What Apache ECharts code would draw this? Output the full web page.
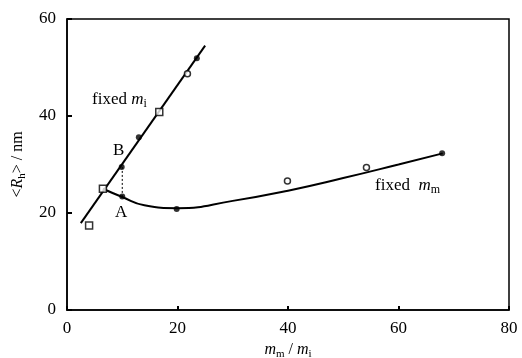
<!DOCTYPE html>
<html>
<head>
<meta charset="utf-8">
<script src="https://cdn.jsdelivr.net/npm/echarts@6/dist/echarts.min.js"></script>
<style>
  html, body { margin: 0; padding: 0; background: #fff; }
  #chart { width: 522px; height: 358px; }
</style>
</head>
<body>
<div id="chart"></div>
<script>
// fitted straight line, fixed m_i
var fixedMiLine = [[2.5, 17.9], [25, 54.5]];
// smooth curve, fixed m_m
var fixedMmCurve = [[6.5, 25], [10, 23.3], [14, 21.6], [20, 21], [30, 22.5], [40, 24.6], [50, 27.2], [60, 30], [68, 32.3]];
// dotted drop between B and A
var dropAB = [[10, 29.5], [10, 23.4]];
var openSquares = [[4, 17.4], [6.5, 25], [16.7, 40.8]];
var openCircles = [[21.8, 48.7], [39.9, 26.6], [54.2, 29.4]];
var filledDots = [[9.9, 29.5], [10, 23.4], [13, 35.6], [19.85, 20.8], [23.5, 51.9], [67.9, 32.3]];
var xTicks = [0, 20, 40, 60, 80];
var yTicks = [0, 20, 40, 60];

var serif = '"Liberation Serif", "DejaVu Serif", serif';
var chart = echarts.init(document.getElementById('chart'), null, { renderer: 'canvas' });

function richLabel(size, sub) {
  return {
    n: { fontFamily: serif, fontSize: size, color: '#000', fill: '#000' },
    i: { fontFamily: serif, fontStyle: 'italic', fontSize: size, color: '#000', fill: '#000' },
    s: { fontFamily: serif, fontSize: sub, color: '#000', fill: '#000', padding: [9, 0, 0, 0] }
  };
}

chart.setOption({
  animation: false,
  backgroundColor: '#fff',
  grid: {
    left: 67, right: 13, top: 19, bottom: 48, outerBoundsMode: 'none', containLabel: false,
    show: true, borderColor: '#000', borderWidth: 1.5, backgroundColor: 'transparent'
  },
  xAxis: {
    type: 'value', min: xTicks[0], max: xTicks[xTicks.length - 1], interval: 20,
    axisLine: { lineStyle: { color: '#000', width: 1.5 } },
    axisTick: { inside: true, length: 4, lineStyle: { color: '#000', width: 2 } },
    axisLabel: { color: '#000', fontFamily: serif, fontSize: 17, margin: 10 },
    splitLine: { show: false },
    name: '{i|m}{s|m}{n| / }{i|m}{s|i}',
    nameLocation: 'middle', nameGap: 29,
    nameTextStyle: { rich: richLabel(16, 11) }
  },
  yAxis: {
    type: 'value', min: yTicks[0], max: yTicks[yTicks.length - 1], interval: 20,
    axisLine: { lineStyle: { color: '#000', width: 1.5 } },
    axisTick: { inside: true, length: 5, lineStyle: { color: '#000', width: 2 } },
    axisLabel: { color: '#000', fontFamily: serif, fontSize: 17, margin: 11 },
    splitLine: { show: false },
    name: '{n|<}{i|R}{s|h}{n|> / nm}',
    nameLocation: 'middle', nameGap: 38, nameRotate: 90,
    nameTextStyle: { rich: richLabel(16, 11) }
  },
  series: [
    { type: 'line', data: fixedMiLine, symbol: 'none', lineStyle: { color: '#000', width: 2 }, z: 2 },
    { type: 'line', data: fixedMmCurve, smooth: 0.5, symbol: 'none', lineStyle: { color: '#000', width: 2 }, z: 2 },
    { type: 'line', data: dropAB, symbol: 'none', lineStyle: { color: '#000', width: 1, type: [2, 2] }, z: 2 },
    { type: 'scatter', data: openSquares, symbol: 'rect', symbolSize: 7, itemStyle: { color: '#fff', borderColor: '#000', borderWidth: 1.5 }, z: 3 },
    { type: 'scatter', data: openCircles, symbol: 'circle', symbolSize: 6, itemStyle: { color: '#fff', borderColor: '#000', borderWidth: 1.5 }, z: 3 },
    { type: 'scatter', data: filledDots, symbol: 'circle', symbolSize: 6, itemStyle: { color: '#000' }, z: 3 }
  ],
  graphic: [
    { type: 'text', left: 92, top: 91, style: { text: '{n|fixed }{i|m}{s|i}', rich: richLabel(17, 12) } },
    { type: 'text', left: 113, top: 142, style: { text: 'B', fontFamily: serif, fontSize: 17, fill: '#000' } },
    { type: 'text', left: 115, top: 204, style: { text: 'A', fontFamily: serif, fontSize: 17, fill: '#000' } },
    { type: 'text', left: 375, top: 177, style: { text: '{n|fixed  }{i|m}{s|m}', rich: richLabel(17, 12) } }
  ]
});
</script>
</body>
</html>
